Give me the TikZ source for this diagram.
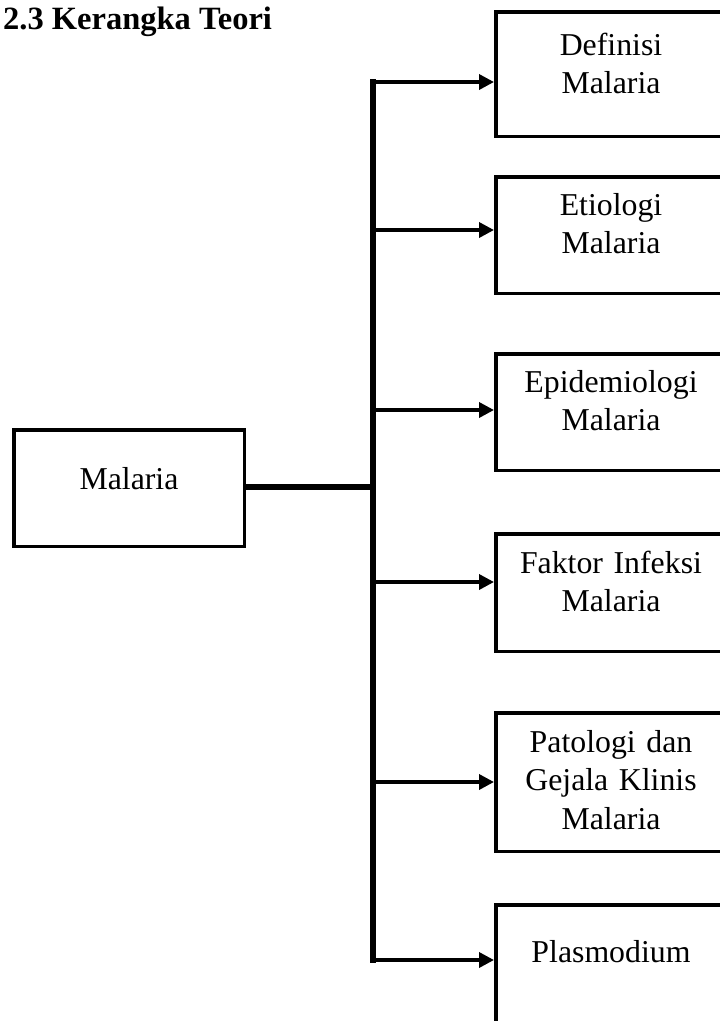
\documentclass[tikz,border=0pt]{standalone}
\usepackage{fontspec}
\setmainfont{Liberation Serif}
\usetikzlibrary{arrows.meta}
\begin{document}
\begin{tikzpicture}[x=1pt,y=-1pt,
  box/.style={draw, line width=3.5pt, rectangle, minimum width=230.5pt, anchor=north west, inner sep=0pt},
  lbl/.style={font=\fontsize{31.8}{38.8}\selectfont, text width=234pt, align=center, anchor=base, inner sep=0pt},
  spine/.style={line width=6pt},
  arr/.style={line width=3.5pt, -{Triangle[length=15pt,width=15pt]}},
]
\useasboundingbox (0,0) rectangle (720,1021);
\clip (0,0) rectangle (720,1021);
% title
\node[anchor=base west, inner sep=0pt, font=\fontsize{32.5}{38.8}\selectfont\bfseries] (title) at (3,29.5) {2.3 Kerangka Teori};
% left box
\node[box, minimum height=116.5pt] (mal) at (12,428) {};
\node[lbl] (malT) at (129,489) {Malaria};
% right boxes
\node[box, minimum height=124.5pt] (def) at (494,10) {};
\node[box, minimum height=116.5pt] (eti) at (494,175) {};
\node[box, minimum height=116.5pt] (epi) at (494,352) {};
\node[box, minimum height=117.5pt] (fak) at (494,532) {};
\node[box, minimum height=138.5pt] (pat) at (494,711) {};
\node[box, minimum height=150pt] (pla) at (494,903) {};
\node[lbl] (defT) at (611,55) {Definisi\\Malaria};
\node[lbl] (etiT) at (611,215) {Etiologi\\Malaria};
\node[lbl] (epiT) at (611,392) {Epidemiologi\\Malaria};
\node[lbl] (fakT) at (611,573) {Faktor Infeksi\\Malaria};
\node[lbl] (patT) at (611,752) {Patologi dan\\Gejala Klinis\\Malaria};
\node[lbl] (plaT) at (611,962) {Plasmodium};
% spine coordinates
\coordinate (s1) at (373,82);
\coordinate (s2) at (373,230);
\coordinate (s3) at (373,410);
\coordinate (s4) at (373,582);
\coordinate (s5) at (373,782);
\coordinate (s6) at (373,960);
\coordinate (sm) at (373,487);
% connectors
\draw[spine, line cap=rect] (s1) -- (s6);
\draw[spine] (sm -| mal.east) -- (sm);
\draw[arr] (s1) -- (s1 -| def.west);
\draw[arr] (s2) -- (s2 -| eti.west);
\draw[arr] (s3) -- (s3 -| epi.west);
\draw[arr] (s4) -- (s4 -| fak.west);
\draw[arr] (s5) -- (s5 -| pat.west);
\draw[arr] (s6) -- (s6 -| pla.west);
\end{tikzpicture}
\end{document}
